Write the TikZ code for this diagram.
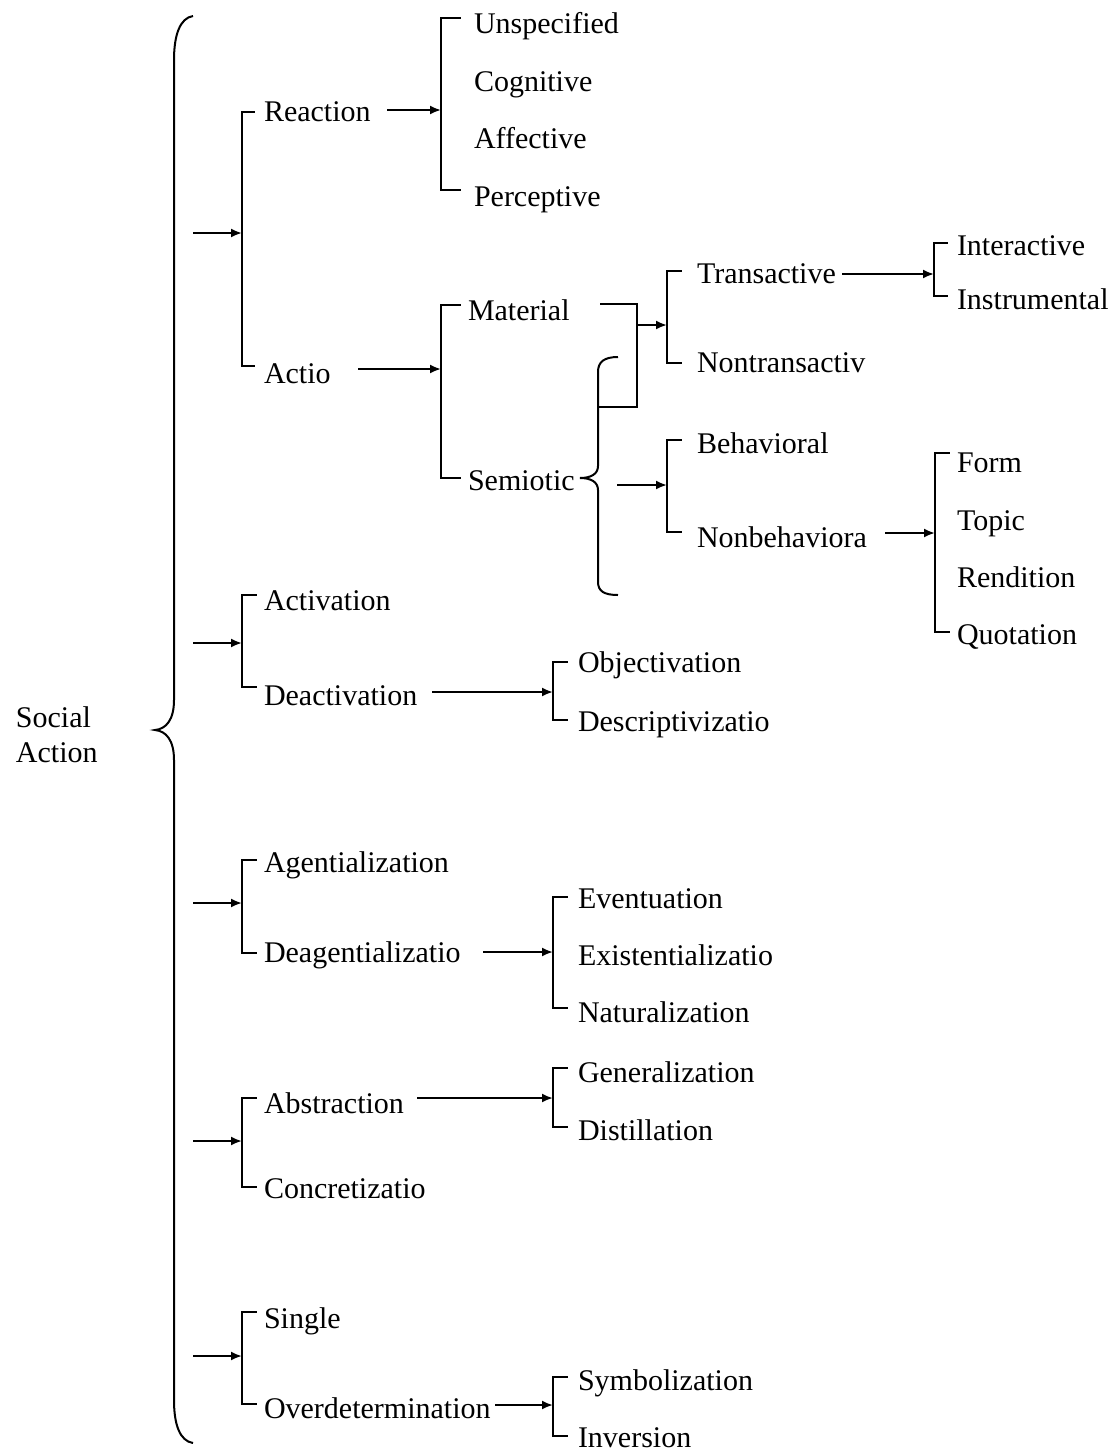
\documentclass[tikz,border=0pt]{standalone}
\usepackage{fontspec}
\setmainfont{Liberation Serif}
\usetikzlibrary{arrows.meta}
\begin{document}
\begin{tikzpicture}[x=1pt,y=-1pt,line width=2pt,
  lbl/.style={anchor=base west,inner sep=0pt,font=\fontsize{30}{36}\selectfont},
  arr/.style={-{Latex[length=11pt,width=9pt]}},
  brk/.style={line cap=rect}]
\useasboundingbox (0,0) rectangle (1115,1452);

% ---------- labels ----------
\node[lbl] (social) at (15,727) {Social};
\node[lbl] (action) at (15,762) {Action};

\node[lbl] (reaction) at (263,121) {Reaction};
\node[lbl] (actio) at (263,383) {Actio};
\node[lbl] (unspec) at (473,33) {Unspecified};
\node[lbl] (cogn) at (473,91) {Cognitive};
\node[lbl] (affect) at (473,148) {Affective};
\node[lbl] (percep) at (473,206) {Perceptive};
\node[lbl] (material) at (467,320) {Material};
\node[lbl] (semiotic) at (467,490) {Semiotic};
\node[lbl] (trans) at (696,283) {Transactive};
\node[lbl] (nontrans) at (696,372) {Nontransactiv};
\node[lbl] (behav) at (696,453) {Behavioral};
\node[lbl] (nonbehav) at (696,547) {Nonbehaviora};
\node[lbl] (interact) at (956,255) {Interactive};
\node[lbl] (instrum) at (956,309) {Instrumental};
\node[lbl] (form) at (956,472) {Form};
\node[lbl] (topic) at (956,530) {Topic};
\node[lbl] (rendition) at (956,587) {Rendition};
\node[lbl] (quotation) at (956,644) {Quotation};

\node[lbl] (activation) at (263,610) {Activation};
\node[lbl] (deactivation) at (263,705) {Deactivation};
\node[lbl] (objectiv) at (577,672) {Objectivation};
\node[lbl] (descript) at (577,731) {Descriptivizatio};

\node[lbl] (agential) at (263,872) {Agentialization};
\node[lbl] (deagential) at (263,962) {Deagentializatio};
\node[lbl] (eventuation) at (577,908) {Eventuation};
\node[lbl] (existential) at (577,965) {Existentializatio};
\node[lbl] (natural) at (577,1022) {Naturalization};

\node[lbl] (abstraction) at (263,1113) {Abstraction};
\node[lbl] (concret) at (263,1198) {Concretizatio};
\node[lbl] (general) at (577,1082) {Generalization};
\node[lbl] (distill) at (577,1140) {Distillation};

\node[lbl] (single) at (263,1328) {Single};
\node[lbl] (overdet) at (263,1418) {Overdetermination};
\node[lbl] (symbol) at (577,1390) {Symbolization};
\node[lbl] (inversion) at (577,1447) {Inversion};

% ---------- main brace ----------
\draw (193,16) .. controls (180,18) and (174,35) .. (174,60)
  -- (174,700) .. controls (174,720) and (166,729) .. (155,730)
  .. controls (166,731) and (174,740) .. (174,760)
  -- (174,1400) .. controls (174,1425) and (180,1441) .. (193,1443);

% ---------- group 1: Reaction / Actio ----------
\coordinate (g1s) at (193,233); \coordinate (g1b) at (242,233);
\draw[arr] (g1s) -- (g1b);
\draw[brk] (254,112) -- (242,112) -- (242,366) -- (254,366);

\coordinate (reA) at (387,110); \coordinate (reB) at (441,110);
\draw[arr] (reA) -- (reB);
\draw[brk] (460,18) -- (441,18) -- (441,190) -- (460,190);

\coordinate (acA) at (358,369); \coordinate (acB) at (441,369);
\draw[arr] (acA) -- (acB);
\draw[brk] (460,305) -- (441,305) -- (441,478) -- (460,478);

% Material connector and Semiotic brace
\draw (600,304) -- (637,304) -- (637,407) -- (598,407);
\coordinate (maA) at (637,325); \coordinate (maB) at (667,325);
\draw[arr] (maA) -- (maB);
\draw[brk] (681,271) -- (667,271) -- (667,363) -- (681,363);

\draw (618,357) .. controls (604,357) and (598,362) .. (598,372)
  -- (598,466) .. controls (598,474) and (591,478) .. (580,478)
  .. controls (591,478) and (598,482) .. (598,490)
  -- (598,582) .. controls (598,591) and (604,595) .. (618,595);
\coordinate (seA) at (617,485); \coordinate (seB) at (667,485);
\draw[arr] (seA) -- (seB);
\draw[brk] (681,440) -- (667,440) -- (667,532) -- (681,532);

\coordinate (trA) at (842,274); \coordinate (trB) at (934,274);
\draw[arr] (trA) -- (trB);
\draw[brk] (947,243) -- (934,243) -- (934,296) -- (947,296);

\coordinate (nbA) at (885,533); \coordinate (nbB) at (935,533);
\draw[arr] (nbA) -- (nbB);
\draw[brk] (949,453) -- (935,453) -- (935,632) -- (949,632);

% ---------- group 2 ----------
\coordinate (g2s) at (193,643); \coordinate (g2b) at (242,643);
\draw[arr] (g2s) -- (g2b);
\draw[brk] (256,595) -- (242,595) -- (242,687) -- (256,687);
\coordinate (deA) at (432,692); \coordinate (deB) at (553,692);
\draw[arr] (deA) -- (deB);
\draw[brk] (567,662) -- (553,662) -- (553,720) -- (567,720);

% ---------- group 3 ----------
\coordinate (g3s) at (193,903); \coordinate (g3b) at (242,903);
\draw[arr] (g3s) -- (g3b);
\draw[brk] (256,860) -- (242,860) -- (242,953) -- (256,953);
\coordinate (dgA) at (483,952); \coordinate (dgB) at (553,952);
\draw[arr] (dgA) -- (dgB);
\draw[brk] (567,897) -- (553,897) -- (553,1008) -- (567,1008);

% ---------- group 4 ----------
\coordinate (g4s) at (193,1141); \coordinate (g4b) at (242,1141);
\draw[arr] (g4s) -- (g4b);
\draw[brk] (256,1098) -- (242,1098) -- (242,1187) -- (256,1187);
\coordinate (abA) at (417,1098); \coordinate (abB) at (553,1098);
\draw[arr] (abA) -- (abB);
\draw[brk] (567,1068) -- (553,1068) -- (553,1127) -- (567,1127);

% ---------- group 5 ----------
\coordinate (g5s) at (193,1356); \coordinate (g5b) at (242,1356);
\draw[arr] (g5s) -- (g5b);
\draw[brk] (256,1312) -- (242,1312) -- (242,1404) -- (256,1404);
\coordinate (ovA) at (495,1405); \coordinate (ovB) at (553,1405);
\draw[arr] (ovA) -- (ovB);
\draw[brk] (567,1377) -- (553,1377) -- (553,1436) -- (567,1436);
\end{tikzpicture}
\end{document}
